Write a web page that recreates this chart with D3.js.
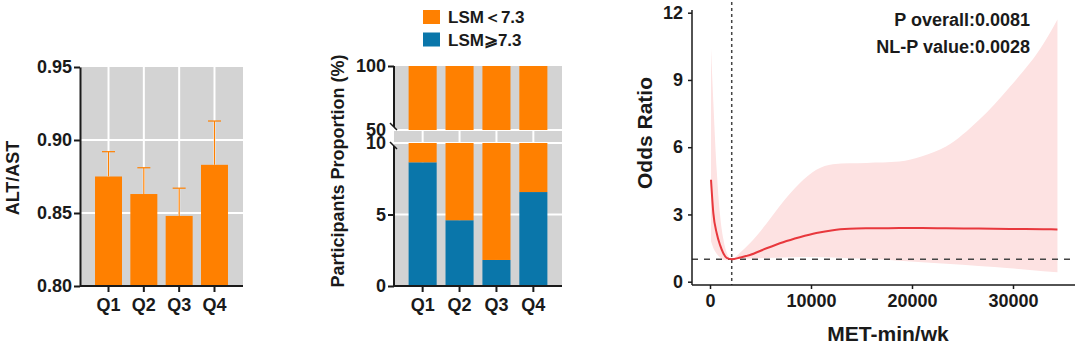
<!DOCTYPE html>
<html><head><meta charset="utf-8">
<script src="https://cdn.jsdelivr.net/npm/d3@7"></script>
<style>
html,body{margin:0;padding:0;background:#fff;}
svg{display:block;font-family:"Liberation Sans",Arial,sans-serif;font-weight:bold;}
</style></head>
<body>
<svg id="chart" width="1080" height="345"></svg>
<script>
// ---------- data ----------
const quartiles = ["Q1", "Q2", "Q3", "Q4"];
const altAstMean = [0.875, 0.863, 0.848, 0.883];
const altAstUpper = [0.892, 0.881, 0.867, 0.913];
const altAstTicks = [0.80, 0.85, 0.90, 0.95];

const lsmHighPct = [8.65, 4.6, 1.82, 6.57];
const lsmLowPct = [91.35, 95.4, 98.18, 93.43];
const propTicksTop = [50, 100];
const propTicksBottom = [0, 5, 10];
const legendLabels = ["LSM\uFF1C7.3", "LSM\u2A7E7.3"];

const metValues = [100, 330, 660, 990, 1320, 1650, 2150, 3000, 3950, 5600, 7240, 8880, 10530, 12170, 13800, 15500, 18750, 21000, 23370, 26600, 29700, 33000, 34400];
const orValues  = [4.55, 3.06, 2.17, 1.64, 1.27, 1.06, 1.00, 1.08, 1.19, 1.49, 1.76, 1.98, 2.17, 2.30, 2.36, 2.38, 2.39, 2.39, 2.38, 2.37, 2.35, 2.34, 2.33];
const orUpper   = [10.4, 8.0, 5.0, 3.0, 1.9, 1.3, 1.0, 1.3, 1.71, 2.6, 3.57, 4.39, 4.99, 5.24, 5.28, 5.3, 5.36, 5.6, 6.03, 7.2, 8.7, 10.6, 11.7];
const orLower   = [1.8, 1.5, 1.25, 1.08, 0.98, 0.96, 1.0, 1.02, 1.04, 1.06, 1.08, 1.1, 1.1, 1.08, 1.05, 1.02, 0.94, 0.87, 0.8, 0.7, 0.6, 0.47, 0.42];
const refMet = 2150;
const orTicks = [0, 3, 6, 9, 12];
const metTicks = [0, 10000, 20000, 30000];

// ---------- style ----------
const ORANGE = "#FF8000", BLUE = "#0A76AA", GRAY = "#D3D3D3", INK = "#1a1a1a";
const svg = d3.select("#chart");

function styleAxis(g, sw) {
  g.select(".domain").attr("stroke", INK).attr("stroke-width", sw);
  g.selectAll(".tick line").attr("stroke", INK).attr("stroke-width", sw);
  g.selectAll(".tick text").attr("fill", INK).attr("font-size", 18).attr("font-weight", "bold")
    .attr("font-family", "'Liberation Sans', Arial, sans-serif");
}

// ================= Panel A =================
(function () {
  const L = 80, R = 243, T = 67, B = 286;
  const x = d3.scaleBand().domain(quartiles).range([L, R]).paddingInner(0.236).paddingOuter(0.425);
  const y = d3.scaleLinear().domain([0.80, 0.95]).range([B, T]);
  const g = svg.append("g");
  g.append("rect").attr("x", L).attr("y", T).attr("width", R - L).attr("height", B - T).attr("fill", GRAY);
  g.selectAll("line.vg").data(quartiles).join("line")
    .attr("x1", d => x(d) + x.bandwidth() / 2).attr("x2", d => x(d) + x.bandwidth() / 2)
    .attr("y1", T).attr("y2", B).attr("stroke", "#fff").attr("stroke-width", 2);
  g.selectAll("line.hg").data(altAstTicks.slice(1, 3)).join("line")
    .attr("x1", L).attr("x2", R).attr("y1", d => y(d)).attr("y2", d => y(d))
    .attr("stroke", "#fff").attr("stroke-width", 2);
  // error bars
  const eb = g.selectAll("g.eb").data(quartiles).join("g");
  eb.append("line").attr("x1", (d) => x(d) + x.bandwidth() / 2).attr("x2", d => x(d) + x.bandwidth() / 2)
    .attr("y1", (d, i) => y(altAstMean[i])).attr("y2", (d, i) => y(altAstUpper[i]))
    .attr("stroke", ORANGE).attr("stroke-width", 1.2);
  eb.append("line").attr("x1", d => x(d) + x.bandwidth() / 2 - 6.5).attr("x2", d => x(d) + x.bandwidth() / 2 + 6.5)
    .attr("y1", (d, i) => y(altAstUpper[i])).attr("y2", (d, i) => y(altAstUpper[i]))
    .attr("stroke", ORANGE).attr("stroke-width", 1.2);
  g.selectAll("rect.bar").data(quartiles).join("rect")
    .attr("x", d => x(d)).attr("width", x.bandwidth())
    .attr("y", (d, i) => y(altAstMean[i])).attr("height", (d, i) => B - y(altAstMean[i]))
    .attr("fill", ORANGE);
  const ya = g.append("g").attr("transform", `translate(${L},0)`)
    .call(d3.axisLeft(y).tickValues(altAstTicks).tickFormat(d3.format(".2f")).tickSize(6).tickPadding(2).tickSizeOuter(0));
  styleAxis(ya, 2);
  const xa = g.append("g").attr("transform", `translate(0,${B})`)
    .call(d3.axisBottom(x).tickSize(6).tickPadding(6).tickSizeOuter(0));
  styleAxis(xa, 2);
  xa.select(".domain").attr("d", `M${L},0H${R}`);
  g.append("text").attr("transform", `translate(19,178) rotate(-90)`).attr("text-anchor", "middle")
    .attr("font-size", 18).attr("fill", INK).text("ALT/AST");
})();

// ================= Panel B =================
(function () {
  const L = 394, R = 562, T = 66, BT = 130, TB = 143, B = 286;
  const x = d3.scaleBand().domain(quartiles).range([L, R]).paddingInner(0.24).paddingOuter(0.396);
  const yTop = d3.scaleLinear().domain([50, 100]).range([BT, T]).clamp(true);
  const yBot = d3.scaleLinear().domain([0, 10]).range([B, TB]).clamp(true);
  const g = svg.append("g");
  g.append("rect").attr("x", L).attr("y", T).attr("width", R - L).attr("height", B - T).attr("fill", GRAY);
  g.selectAll("line.vg").data(quartiles).join("line")
    .attr("x1", d => x(d) + x.bandwidth() / 2).attr("x2", d => x(d) + x.bandwidth() / 2)
    .attr("y1", T).attr("y2", B).attr("stroke", "#fff").attr("stroke-width", 2);
  const hg = [yTop(50), yBot(10), yBot(5)];
  g.selectAll("line.hg").data(hg).join("line")
    .attr("x1", L).attr("x2", R).attr("y1", d => d).attr("y2", d => d)
    .attr("stroke", "#fff").attr("stroke-width", 2);
  [yTop, yBot].forEach(ys => {
    // blue (LSM >= 7.3)
    g.selectAll(null).data(quartiles).join("rect")
      .attr("x", d => x(d)).attr("width", x.bandwidth())
      .attr("y", (d, i) => ys(lsmHighPct[i])).attr("height", (d, i) => ys(0) - ys(lsmHighPct[i]))
      .attr("fill", BLUE);
    // orange (LSM < 7.3)
    g.selectAll(null).data(quartiles).join("rect")
      .attr("x", d => x(d)).attr("width", x.bandwidth())
      .attr("y", (d, i) => ys(lsmHighPct[i] + lsmLowPct[i]))
      .attr("height", (d, i) => ys(lsmHighPct[i]) - ys(lsmHighPct[i] + lsmLowPct[i]))
      .attr("fill", ORANGE);
  });
  const at = g.append("g").attr("transform", `translate(${L},0)`)
    .call(d3.axisLeft(yTop).tickValues(propTicksTop).tickSize(6).tickPadding(2).tickSizeOuter(0));
  styleAxis(at, 2);
  at.select(".domain").attr("d", `M0,${T}V${BT - 3}`);
  at.selectAll(".tick").filter(d => d === 50).select("line").remove();
  const ab = g.append("g").attr("transform", `translate(${L},0)`)
    .call(d3.axisLeft(yBot).tickValues(propTicksBottom).tickSize(6).tickPadding(2).tickSizeOuter(0));
  styleAxis(ab, 2);
  ab.select(".domain").attr("d", `M0,${TB + 3}V${B}`);
  ab.selectAll(".tick").filter(d => d === 10).select("line").remove();
  // break marks
  [BT - 3, TB + 3].forEach(yy => {
    g.append("line").attr("x1", L - 4).attr("x2", L + 3).attr("y1", yy - 4).attr("y2", yy + 3)
      .attr("stroke", INK).attr("stroke-width", 1.5);
  });
  const xa = g.append("g").attr("transform", `translate(0,${B})`)
    .call(d3.axisBottom(x).tickSize(6).tickPadding(6).tickSizeOuter(0));
  styleAxis(xa, 2);
  xa.select(".domain").attr("d", `M${L},0H${R}`);
  g.append("text").attr("transform", `translate(344,171) rotate(-90)`).attr("text-anchor", "middle")
    .attr("font-size", 18).attr("fill", INK).text("Participants Proportion (%)");
  // legend
  const lg = g.append("g");
  const lcol = [ORANGE, BLUE];
  legendLabels.forEach((t, i) => {
    lg.append("rect").attr("x", 423).attr("y", 10 + i * 22.5).attr("width", 17).attr("height", 14).attr("fill", lcol[i]);
    lg.append("text").attr("x", 448).attr("y", 23 + i * 22.5).attr("font-size", 17).attr("fill", INK).text(t);
  });
})();

// ================= Panel C =================
(function () {
  const AX = 692, AY = 285, XR = 1075;
  const x = d3.scaleLinear().domain([0, 30000]).range([710, 1013]);
  const y = d3.scaleLinear().domain([0, 12]).range([281.7, 12.7]);
  const g = svg.append("g");
  const pts = metValues.map((m, i) => ({ m, or: orValues[i], lo: orLower[i], hi: orUpper[i] }));
  g.append("path").datum(pts)
    .attr("d", d3.area().x(d => x(d.m)).y0(d => y(d.lo)).y1(d => y(d.hi)).curve(d3.curveMonotoneX))
    .attr("fill", "#FDE2E2");
  g.append("line").attr("x1", AX).attr("x2", XR).attr("y1", y(1)).attr("y2", y(1))
    .attr("stroke", "#444").attr("stroke-width", 1.6).attr("stroke-dasharray", "6,6");
  g.append("line").attr("x1", x(refMet)).attr("x2", x(refMet)).attr("y1", 2).attr("y2", AY)
    .attr("stroke", "#444").attr("stroke-width", 1.5).attr("stroke-dasharray", "3,3");
  g.append("path").datum(pts)
    .attr("d", d3.line().x(d => x(d.m)).y(d => y(d.or)).curve(d3.curveMonotoneX))
    .attr("fill", "none").attr("stroke", "#E8383D").attr("stroke-width", 2);
  const ya = g.append("g").attr("transform", `translate(${AX},0)`)
    .call(d3.axisLeft(y).tickValues(orTicks).tickSize(4).tickPadding(5).tickSizeOuter(0));
  styleAxis(ya, 1.5);
  ya.select(".domain").attr("d", `M0,10V${AY}`);
  const xa = g.append("g").attr("transform", `translate(0,${AY})`)
    .call(d3.axisBottom(x).tickValues(metTicks).tickFormat(d3.format("d")).tickSize(4).tickPadding(5).tickSizeOuter(0));
  styleAxis(xa, 1.5);
  xa.select(".domain").attr("d", `M${AX},0H${XR}`);
  g.append("text").attr("transform", `translate(652,133) rotate(-90)`).attr("text-anchor", "middle")
    .attr("font-size", 21).attr("fill", INK).text("Odds Ratio");
  g.append("text").attr("x", 888).attr("y", 341).attr("text-anchor", "middle")
    .attr("font-size", 21).attr("fill", INK).text("MET-min/wk");
  g.append("text").attr("x", 1030).attr("y", 26).attr("text-anchor", "end")
    .attr("font-size", 18).attr("fill", INK).text("P overall:0.0081");
  g.append("text").attr("x", 1030).attr("y", 53).attr("text-anchor", "end")
    .attr("font-size", 18).attr("fill", INK).text("NL-P value:0.0028");
})();
</script>
</body></html>
